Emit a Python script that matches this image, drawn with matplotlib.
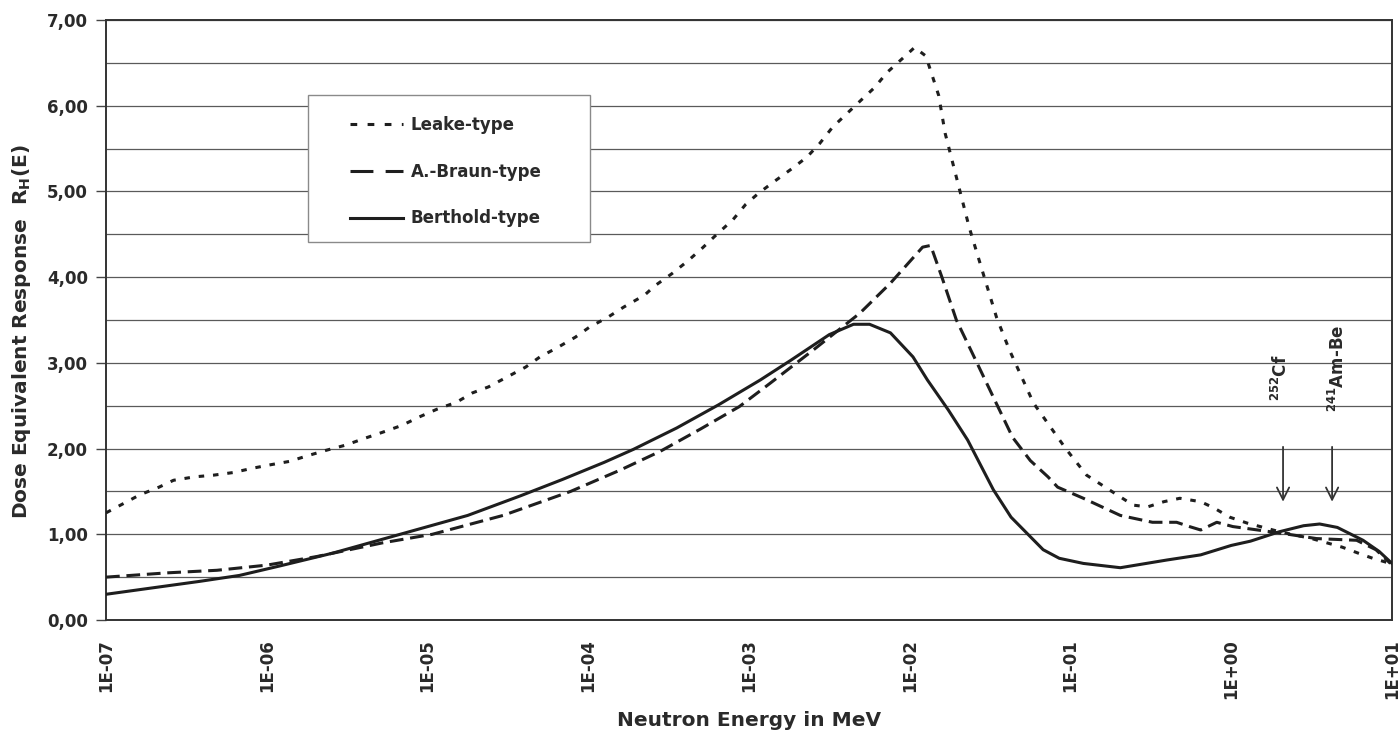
import matplotlib
matplotlib.use("Agg")
import matplotlib.pyplot as plt
import numpy as np
from matplotlib.patches import Rectangle
from matplotlib.lines import Line2D

# ---------------- data ----------------
# energies given as log10(E / MeV)
leake_logE = [-7.0, -6.91, -6.79, -6.67, -6.58, -6.45, -6.33, -6.21, -6.09, -5.98,
              -5.86, -5.74, -5.63, -5.51, -5.39, -5.28, -5.16, -5.05, -4.94, -4.82,
              -4.72, -4.62, -4.51, -4.39, -4.30, -4.19, -4.08, -3.99, -3.88, -3.78,
              -3.65, -3.585, -3.48, -3.38, -3.29, -3.20, -3.10, -3.02, -2.94, -2.84,
              -2.73, -2.64, -2.56, -2.48, -2.39, -2.30, -2.22, -2.14, -2.04, -1.97,
              -1.90, -1.86, -1.82, -1.78, -1.72, -1.63, -1.53,
              -1.46, -1.38, -1.23, -1.03, -0.90, -0.71, -0.61, -0.52, -0.42, -0.32,
              -0.19, -0.11, -0.01, 0.10, 0.30, 0.50, 0.69, 0.79, 0.88, 0.99]
leake_R = [1.25, 1.34, 1.46, 1.55, 1.63, 1.67, 1.69, 1.72, 1.77, 1.81,
           1.85, 1.92, 1.98, 2.04, 2.12, 2.19, 2.27, 2.37, 2.46, 2.54,
           2.65, 2.72, 2.83, 2.95, 3.07, 3.18, 3.30, 3.42, 3.53, 3.65,
           3.79, 3.90, 4.04, 4.19, 4.34, 4.50, 4.67, 4.85, 4.98, 5.12,
           5.27, 5.40, 5.56, 5.75, 5.91, 6.07, 6.21, 6.39, 6.56, 6.68,
           6.58, 6.35, 6.12, 5.68, 5.24, 4.58, 3.96,
           3.53, 3.15, 2.53, 2.00, 1.69, 1.46, 1.34, 1.32, 1.38, 1.42,
           1.38, 1.31, 1.20, 1.13, 1.03, 0.95, 0.85, 0.78, 0.72, 0.66]

braun_logE = [-7.0, -6.62, -6.31, -6.0, -5.69, -5.28, -4.97, -4.75, -4.53, -4.11,
              -3.8, -3.55, -3.30, -3.06, -2.87, -2.6, -2.31, -2.12, -1.92, -1.87,
              -1.80, -1.71, -1.61, -1.48, -1.36, -1.25, -1.14, -1.08, -0.92, -0.69,
              -0.49, -0.34, -0.26, -0.19, -0.09, 0.01, 0.32, 0.53, 0.78, 0.90, 0.99]
braun_R = [0.50, 0.55, 0.58, 0.64, 0.74, 0.90, 1.00, 1.11, 1.22, 1.50,
           1.75, 1.97, 2.23, 2.49, 2.76, 3.15, 3.58, 3.93, 4.35, 4.37,
           4.00, 3.50, 3.11, 2.60, 2.13, 1.86, 1.67, 1.55, 1.42, 1.22,
           1.14, 1.14, 1.09, 1.05, 1.14, 1.09, 1.01, 0.95, 0.93, 0.82, 0.66]

berthold_logE = [-7.0, -6.73, -6.42, -6.17, -5.92, -5.59, -5.17, -4.75, -4.42, -4.16,
                 -3.90, -3.72, -3.45, -3.19, -2.93, -2.74, -2.5, -2.35, -2.25,
                 -2.12, -1.98, -1.89, -1.76, -1.64, -1.48, -1.37, -1.27, -1.17, -1.07,
                 -0.92, -0.69, -0.40, -0.19, 0.0, 0.12, 0.30, 0.45, 0.55, 0.66,
                 0.82, 0.92, 1.0]
berthold_R = [0.30, 0.37, 0.45, 0.52, 0.63, 0.78, 1.00, 1.22, 1.45, 1.64,
              1.84, 1.99, 2.24, 2.51, 2.80, 3.03, 3.33, 3.45, 3.45,
              3.35, 3.07, 2.80, 2.45, 2.10, 1.52, 1.20, 1.01, 0.82, 0.72,
              0.66, 0.61, 0.70, 0.76, 0.87, 0.92, 1.03, 1.10, 1.12, 1.08,
              0.93, 0.80, 0.66]

series_names = ["Leake-type", "A.-Braun-type", "Berthold-type"]
xtick_exponents = [-7, -6, -5, -4, -3, -2, -1, 0, 1]
xtick_labels = ["1E-07", "1E-06", "1E-05", "1E-04", "1E-03", "1E-02", "1E-01", "1E+00", "1E+01"]
ytick_values = [0, 1, 2, 3, 4, 5, 6, 7]
ytick_labels = ["0,00", "1,00", "2,00", "3,00", "4,00", "5,00", "6,00", "7,00"]

source_names = [r"$^{252}$Cf", r"$^{241}$Am-Be"]
source_E = [2.1, 4.24]

# ---------------- style ----------------
plt.rcParams["font.family"] = ["DejaVu Sans"]
plt.rcParams["font.weight"] = "bold"
plt.rcParams["mathtext.fontset"] = "dejavusans"
plt.rcParams["mathtext.default"] = "bf"

INK = "#1e1e1e"
TXT = "#2a2a2a"
GRID = "#5a5a5a"
LW = 2.2

fig = plt.figure(figsize=(13.99, 7.36), dpi=100)
ax = fig.add_axes([106 / 1399, 1 - 620 / 736, 1286 / 1399, 600 / 736])

E_leake = 10.0 ** np.array(leake_logE)
E_braun = 10.0 ** np.array(braun_logE)
E_bert = 10.0 ** np.array(berthold_logE)

ax.plot(E_leake, leake_R, color=INK, lw=LW, linestyle=(0, (1.8, 2.9)),
        dash_capstyle="butt", zorder=4)
ax.plot(E_braun, braun_R, color=INK, lw=LW, linestyle=(0, (4.5, 2.2)),
        dash_capstyle="butt", zorder=4)
ax.plot(E_bert, berthold_R, color=INK, lw=LW, linestyle="-", zorder=5)

ax.set_xscale("log")
ax.set_xlim(1e-7, 1e1)
ax.set_ylim(0, 7)

ax.set_xticks([10.0 ** e for e in xtick_exponents])
ax.set_xticklabels(xtick_labels, rotation=90, fontsize=12, fontweight="bold", color=TXT)
ax.xaxis.set_minor_locator(matplotlib.ticker.NullLocator())
ax.tick_params(axis="x", length=0, pad=14)

ax.set_yticks(ytick_values)
ax.set_yticklabels(ytick_labels, fontsize=12, fontweight="bold", color=TXT)
ax.set_yticks(np.arange(0, 7.01, 0.5), minor=True)
ax.tick_params(axis="y", which="major", length=7, width=1.0, pad=6, color="#444444")
ax.tick_params(axis="y", which="minor", length=0)

ax.grid(True, axis="y", which="both", color=GRID, lw=0.9, zorder=0)
ax.set_axisbelow(True)

for s in ax.spines.values():
    s.set_color("#333333")
    s.set_linewidth(1.4)

ax.set_xlabel("Neutron Energy in MeV", fontsize=14.5, fontweight="bold", color=TXT)
ax.xaxis.set_label_coords(0.5, -0.152)
ax.set_ylabel(r"Dose Equivalent Response  R$_{H}$(E)", fontsize=14.5, fontweight="bold", color=TXT)
ax.yaxis.set_label_coords(-0.057, 0.48)

# legend box
rect = Rectangle((0.157, 0.63), 0.219, 0.245, transform=ax.transAxes,
                 facecolor="white", edgecolor="#8a8a8a", lw=1.0, zorder=3)
ax.add_patch(rect)
h1 = Line2D([], [], color=INK, lw=LW, linestyle=(0, (2.2, 3.4)), dash_capstyle="butt")
h2 = Line2D([], [], color=INK, lw=LW, linestyle=(0, (7.5, 4.0)), dash_capstyle="butt")
h3 = Line2D([], [], color=INK, lw=LW, linestyle="-")
leg = ax.legend([h1, h2, h3], series_names, loc="upper left",
                bbox_to_anchor=(0.1897, 0.840), frameon=False, borderpad=0,
                borderaxespad=0, handlelength=3.2, handletextpad=0.45,
                labelspacing=1.72, prop={"size": 12, "weight": "bold"})
for t in leg.get_texts():
    t.set_color(TXT)
leg.set_zorder(6)

# source annotations
y_arrow_top = 2.02
y_arrow_tip = 1.38
for e in source_E:
    ax.annotate("", xy=(e, y_arrow_tip), xytext=(e, y_arrow_top),
                arrowprops=dict(arrowstyle="->", color="#333333", lw=1.3,
                                mutation_scale=22, shrinkA=0, shrinkB=0), zorder=6)
ax.text(2.05, 2.83, source_names[0], rotation=90, ha="center", va="center",
        fontsize=12, fontweight="bold", color=TXT, zorder=6)
ax.text(4.6, 2.94, source_names[1], rotation=90, ha="center", va="center",
        fontsize=12, fontweight="bold", color=TXT, zorder=6)

fig.savefig("out.png", dpi=100, facecolor="white")
